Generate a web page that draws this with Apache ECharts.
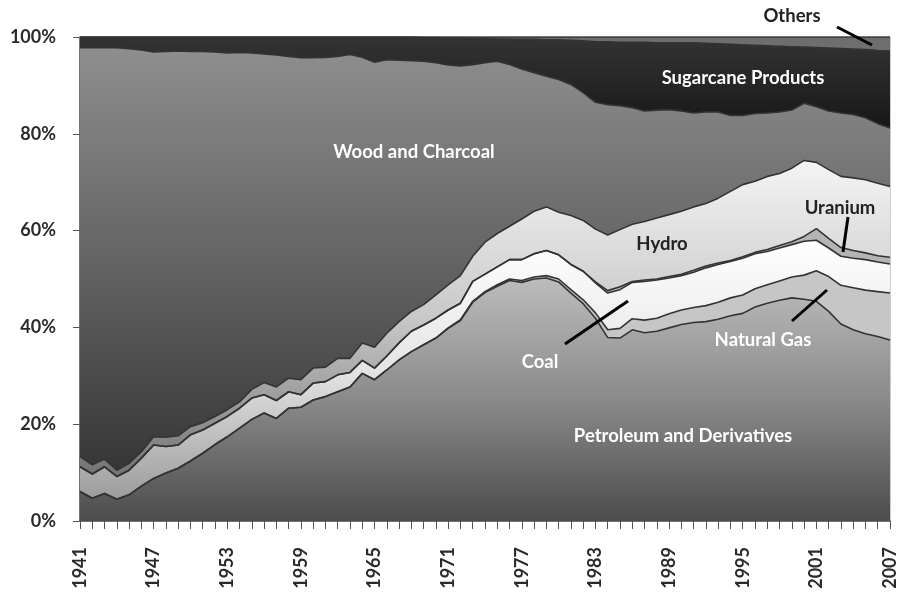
<!DOCTYPE html>
<html>
<head>
<meta charset="utf-8">
<script src="https://cdn.jsdelivr.net/npm/echarts@6/dist/echarts.min.js"></script>
<style>
  html, body { margin: 0; padding: 0; background: #fff; }
  #chart { width: 899px; height: 597px; }
</style>
</head>
<body>
<div id="chart"></div>
<script>
var years = ['1941','1942','1943','1944','1945','1946','1947','1948','1949','1950',
  '1951','1952','1953','1954','1955','1956','1957','1958','1959','1960',
  '1961','1962','1963','1964','1965','1966','1967','1968','1969','1970',
  '1971','1972','1973','1974','1975','1976','1977','1978','1979','1980',
  '1981','1982','1983','1984','1985','1986','1987','1988','1989','1990',
  '1991','1992','1993','1994','1995','1996','1997','1998','1999','2000',
  '2001','2002','2003','2004','2005','2006','2007'];

// shares of the energy supply, % per year
var petroleum = [6.1,4.7,5.7,4.5,5.4,7.2,8.8,9.9,10.9,12.4,
  14.0,15.8,17.4,19.2,21.0,22.3,21.2,23.3,23.5,25.0,
  25.7,26.7,27.7,30.5,29.2,31.2,33.3,35.0,36.4,37.8,
  39.8,41.4,45.2,47.2,48.5,49.7,49.3,50.0,50.2,49.4,
  47.1,44.9,41.9,37.9,37.8,39.5,38.9,39.2,39.9,40.6,
  41.0,41.2,41.7,42.4,42.9,44.2,45.0,45.6,46.1,45.8,
  45.4,43.3,40.7,39.5,38.7,38.1,37.4];
var naturalGas = [0,0,0,0,0,0,0,0,0,0,
  0,0,0,0,0,0,0,0,0,0,
  0,0,0,0,0,0,0,0,0,0,
  0.1,0.2,0.2,0.2,0.3,0.3,0.4,0.4,0.5,0.6,
  0.7,0.8,1.1,1.6,2.0,2.3,2.6,2.7,2.9,3.0,
  3.1,3.3,3.5,3.7,3.8,3.8,3.8,4.0,4.3,5.0,
  6.3,7.2,8.0,8.7,9.0,9.3,9.7];
var coal = [5.1,5.0,5.5,4.7,5.1,5.8,6.9,5.5,4.8,5.4,
  4.8,4.4,4.2,4.1,4.4,3.8,3.7,3.4,2.6,3.5,
  3.1,3.5,3.0,2.7,2.4,2.9,3.5,4.2,4.1,4.1,
  3.7,3.4,4.1,3.6,3.7,4.0,4.3,4.8,5.2,5.0,
  5.2,5.9,6.2,7.6,8.0,7.5,8.0,7.9,7.4,7.1,
  7.3,7.8,7.8,7.5,7.6,7.2,6.9,6.8,6.7,7.0,
  6.3,5.9,6.0,6.1,6.3,6.1,6.0];
var uranium = [0,0,0,0,0,0,0,0,0,0,
  0,0,0,0,0,0,0,0,0,0,
  0,0,0,0,0,0,0,0,0,0,
  0,0,0,0,0,0,0,0,0,0,
  0,0,0.2,0.5,0.6,0.2,0.3,0.2,0.3,0.3,
  0.4,0.4,0.3,0.2,0.3,0.3,0.4,0.5,0.6,1.0,
  2.4,2.0,1.8,1.6,1.4,1.3,1.4];
var hydro = [2.1,1.9,1.6,1.3,1.4,1.3,1.7,1.9,1.9,1.7,
  1.5,1.4,1.4,1.3,1.8,2.5,2.8,2.8,3.1,3.1,
  3.0,3.4,2.9,3.6,4.3,4.7,4.4,4.1,4.2,4.8,
  5.2,5.7,5.2,6.6,6.9,6.9,8.4,8.8,9.0,8.8,
  10.1,10.5,10.9,11.5,11.8,11.8,12.1,12.6,12.8,13.0,
  13.1,12.9,13.4,14.3,14.9,14.7,15.1,14.9,15.2,15.7,
  13.7,14.2,14.7,15.0,15.1,15.0,14.6];
var wood = [84.5,86.2,85.0,87.3,85.7,83.0,79.5,79.7,79.5,77.5,
  76.7,75.3,73.7,72.2,69.5,67.9,68.6,66.5,66.5,64.1,
  64.0,62.4,62.8,59.0,58.9,56.5,54.0,51.8,50.3,48.0,
  45.4,43.3,39.6,37.1,35.6,33.4,31.0,28.6,27.0,27.4,
  27.1,26.4,26.2,26.9,25.6,24.1,22.8,22.3,21.7,20.7,
  19.4,18.9,17.8,15.7,14.3,14.0,13.1,12.7,12.0,11.8,
  11.5,12.1,13.1,13.1,12.8,12.3,12.1];
var sugarcane = [2.2,2.2,2.2,2.2,2.4,2.7,3.1,3.0,2.9,3.0,
  3.0,3.1,3.3,3.2,3.3,3.5,3.7,4.0,4.3,4.3,
  4.2,4.0,3.6,4.2,5.2,4.7,4.8,4.9,4.9,5.2,
  5.6,5.8,5.4,5.0,4.6,5.3,6.1,6.9,7.5,8.2,
  9.1,10.7,12.5,13.0,13.1,13.5,14.2,13.9,13.8,14.1,
  14.5,14.2,14.1,14.7,14.6,14.1,13.9,13.6,13.1,11.6,
  12.2,13.0,13.3,13.5,14.1,15.1,15.9];
var others = [0,0,0,0,0,0,0,0,0,0,
  0,0,0,0,0,0,0,0,0,0,
  0,0,0,0,0,0,0,0,0.1,0.1,
  0.2,0.2,0.3,0.3,0.4,0.4,0.5,0.5,0.6,0.6,
  0.7,0.8,1.0,1.0,1.1,1.1,1.1,1.2,1.2,1.2,
  1.2,1.3,1.4,1.5,1.6,1.7,1.8,1.9,2.0,2.1,
  2.2,2.3,2.4,2.5,2.6,2.8,2.9];

var chart = echarts.init(document.getElementById('chart'));

function grad(top, mid, bottom) {
  return new echarts.graphic.LinearGradient(0, 0, 0, 1, [
    { offset: 0, color: top },
    { offset: 0.5, color: mid },
    { offset: 1, color: bottom }
  ]);
}

function area(name, data, fill) {
  return {
    name: name,
    type: 'line',
    stack: 'total',
    data: data,
    showSymbol: false,
    lineStyle: { color: '#333', width: 1.6 },
    areaStyle: { color: fill, opacity: 1 },
    emphasis: { disabled: true }
  };
}

var font = 'Lato, "Open Sans", sans-serif';

function label(text, x, y, color) {
  return {
    type: 'text',
    x: x, y: y,
    style: {
      text: text,
      fill: color,
      font: 'bold 18.5px ' + font,
      textAlign: 'center',
      textVerticalAlign: 'middle'
    },
    z: 100
  };
}

function pointer(x1, y1, x2, y2) {
  return {
    type: 'line',
    shape: { x1: x1, y1: y1, x2: x2, y2: y2 },
    style: { stroke: '#000', lineWidth: 3 },
    z: 100
  };
}

var option = {
  animation: false,
  backgroundColor: '#fff',
  grid: {
    left: 80, right: 8, top: 37, bottom: 76,
    show: true, borderColor: '#999', borderWidth: 1
  },
  xAxis: {
    type: 'category',
    data: years,
    boundaryGap: false,
    axisLine: { lineStyle: { color: '#555', width: 1.5 } },
    axisTick: { interval: 0, length: 8, lineStyle: { color: '#555' } },
    axisLabel: {
      interval: 5, rotate: 90, margin: 26,
      color: '#2a2a2a', fontSize: 18, fontWeight: 'bold', fontFamily: font
    },
    splitLine: { show: false }
  },
  yAxis: {
    type: 'value',
    min: 0, max: 100, interval: 20,
    axisLine: { show: true, lineStyle: { color: '#555', width: 1.5 } },
    axisTick: { show: true, length: 7, lineStyle: { color: '#555' } },
    axisLabel: {
      formatter: '{value}%', margin: 24,
      color: '#2a2a2a', fontSize: 18, fontWeight: 'bold', fontFamily: font
    },
    splitLine: { show: false }
  },
  series: [
    area('Petroleum and Derivatives', petroleum, grad('#bcbcbc', '#8a8a8a', '#4c4c4c')),
    area('Natural Gas', naturalGas, '#c6c6c6'),
    area('Coal', coal, grad('#ffffff', '#e4e4e4', '#9c9c9c')),
    area('Uranium', uranium, '#b4b4b4'),
    area('Hydro', hydro, grad('#f4f4f4', '#c8c8c8', '#727272')),
    area('Wood and Charcoal', wood, grad('#8e8e8e', '#646464', '#363636')),
    area('Sugarcane Products', sugarcane, grad('#333333', '#262626', '#171717')),
    area('Others', others, '#6e6e6e')
  ],
  graphic: [
    label('Others', 792, 16, '#222'),
    label('Sugarcane Products', 743, 78, '#fff'),
    label('Wood and Charcoal', 414, 152, '#fff'),
    label('Hydro', 662, 244, '#222'),
    label('Uranium', 840, 208, '#222'),
    label('Coal', 540, 362, '#fff'),
    label('Natural Gas', 763, 340, '#fff'),
    label('Petroleum and Derivatives', 683, 436, '#fff'),
    pointer(837, 27, 872, 45),
    pointer(848, 217, 843, 252),
    pointer(565, 344, 628, 301),
    pointer(792, 321, 827, 290)
  ]
};

chart.setOption(option);
</script>
</body>
</html>
